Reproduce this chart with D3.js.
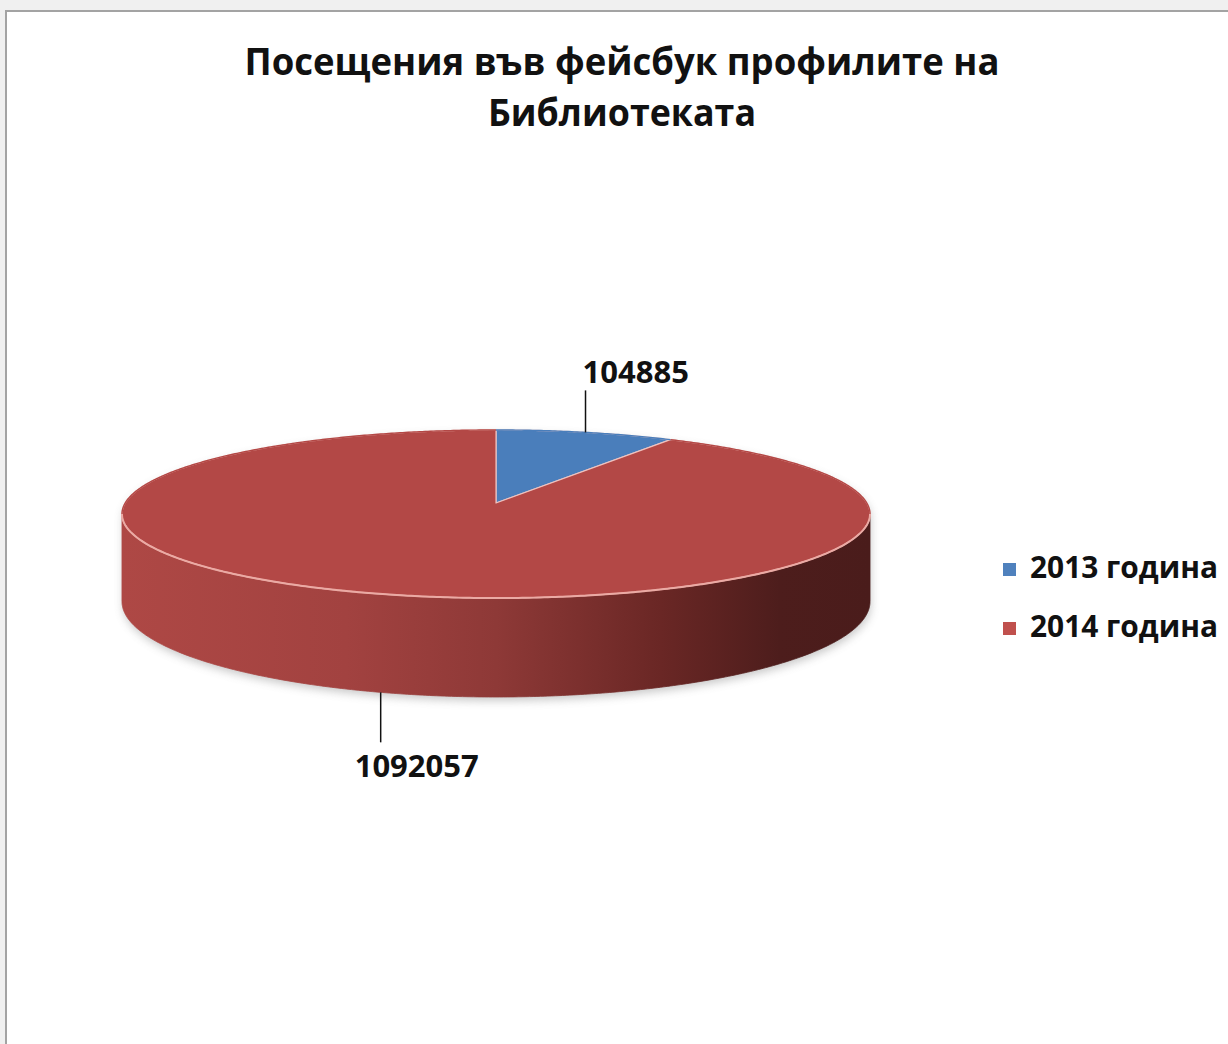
<!DOCTYPE html>
<html>
<head>
<meta charset="utf-8">
<script src="https://cdn.jsdelivr.net/npm/d3@7/dist/d3.min.js"></script>
<style>
  html, body { margin: 0; padding: 0; background: #f0f0f0; }
  svg { display: block; }
</style>
</head>
<body>
<svg id="chart" width="1228" height="1044"></svg>
<script>
// ---- data ----
const titleLines = ["Посещения във фейсбук профилите на", "Библиотеката"];
const categories = ["2013 година", "2014 година"];
const values = [104885, 1092057];

// ---- styles ----
const topColors = ["#4A7EBB", "#B34846"];
const legendColors = ["#4F81BD", "#C0504D"];
const FONT = "'Open Sans', 'Noto Sans', sans-serif";

const svg = d3.select("#chart");
const W = 1228, H = 1044;

// frame
svg.append("rect").attr("x", 0).attr("y", 0).attr("width", W).attr("height", H).attr("fill", "#f0f0f0");
svg.append("rect").attr("x", 6).attr("y", 11).attr("width", W + 20).attr("height", H + 20)
  .attr("fill", "#ffffff").attr("stroke", "#a3a3a3").attr("stroke-width", 2);

// title
const title = svg.append("g");
const titleWidths = [755, 268];
titleLines.forEach((t, i) => {
  title.append("text")
    .attr("x", 622).attr("y", 75 + i * 51)
    .attr("text-anchor", "middle")
    .attr("font-family", FONT).attr("font-weight", 700).attr("font-size", 38)
    .attr("fill", "#111")
    .attr("textLength", titleWidths[i]).attr("lengthAdjust", "spacingAndGlyphs")
    .text(t);
});

// ---- 3D pie geometry (perspective projection of a disc) ----
const CX = 496, CY = 503, RX = 370.8, RY = 82.6, K = 0.1309, D0 = 86;
function proj(theta, level) {
  const w = 1 + K * Math.cos(theta);
  return [CX + RX * Math.sin(theta) / w, CY - RY * Math.cos(theta) / w + level * D0 / w];
}
const pie = d3.pie().sort(null).value(d => d).startAngle(0).endAngle(2 * Math.PI);
const arcs = pie(values);
const line = d3.line();
function sampleArc(a0, a1, level) {
  const n = Math.max(2, Math.ceil(Math.abs(a1 - a0) / (Math.PI / 360)));
  return d3.range(n + 1).map(i => proj(a0 + (a1 - a0) * i / n, level));
}

const defs = svg.append("defs");
defs.append("filter").attr("id", "shadow").attr("x", "-20%").attr("y", "-20%").attr("width", "140%").attr("height", "160%")
  .append("feGaussianBlur").attr("stdDeviation", 4);

const sideLeft = CX - RX / Math.sqrt(1 - K * K), sideRight = CX + RX / Math.sqrt(1 - K * K);
const sideGrad = defs.append("linearGradient").attr("id", "sideGrad")
  .attr("gradientUnits", "userSpaceOnUse")
  .attr("x1", sideLeft).attr("x2", sideRight).attr("y1", 0).attr("y2", 0);
[[0, "#AE4845"], [0.3, "#A24240"], [0.5, "#8E3937"], [0.72, "#6A2725"], [0.88, "#4D1D1C"], [1, "#4A1C1B"]]
  .forEach(([o, c]) => sideGrad.append("stop").attr("offset", o).attr("stop-color", c));

const blueSide = defs.append("linearGradient").attr("id", "sideGrad0")
  .attr("gradientUnits", "userSpaceOnUse")
  .attr("x1", sideLeft).attr("x2", sideRight).attr("y1", 0).attr("y2", 0);
[[0, "#4674AC"], [0.5, "#365B88"], [1, "#1F3550"]]
  .forEach(([o, c]) => blueSide.append("stop").attr("offset", o).attr("stop-color", c));

const thA = Math.acos(-K), thB = 2 * Math.PI - Math.acos(-K);

// shadow
const shadowPts = sampleArc(thA, thB, 1).concat(sampleArc(thB, thA + 2 * Math.PI, 0));
svg.append("path")
  .attr("d", line(shadowPts) + "Z")
  .attr("transform", "translate(1,4)")
  .attr("fill", "#8a8a8a").attr("opacity", 0.45)
  .attr("filter", "url(#shadow)");

// sides (visible front part of each slice)
arcs.forEach((a, i) => {
  const s = Math.max(a.startAngle, thA), e = Math.min(a.endAngle, thB);
  if (e <= s) return;
  const pts = sampleArc(s, e, 0).concat(sampleArc(e, s, 1));
  svg.append("path").attr("d", line(pts) + "Z")
    .attr("fill", i === 1 ? "url(#sideGrad)" : "url(#sideGrad0)")
    .attr("stroke", i === 1 ? "url(#sideGrad)" : "url(#sideGrad0)").attr("stroke-width", 0.8);
});

// top surfaces
arcs.forEach((a, i) => {
  const pts = [[CX, CY]].concat(sampleArc(a.startAngle, a.endAngle, 0));
  svg.append("path").attr("d", line(pts) + "Z")
    .attr("fill", topColors[i])
    .attr("stroke", "rgba(245,200,195,0.85)").attr("stroke-width", 1.3)
    .attr("stroke-linejoin", "round");
});
// outer back edge: cover light stroke with slice colour at back
arcs.forEach((a, i) => {
  const s = a.startAngle, e = a.endAngle;
  const segs = [];
  if (s < thA) segs.push([s, Math.min(e, thA)]);
  if (e > thB) segs.push([Math.max(s, thB), e]);
  segs.forEach(([s0, e0]) => {
    svg.append("path").attr("d", line(sampleArc(s0, e0, 0)))
      .attr("fill", "none").attr("stroke", topColors[i]).attr("stroke-width", 1.4);
  });
});
// front rim highlight
svg.append("path").attr("d", line(sampleArc(thA, thB, 0)))
  .attr("fill", "none").attr("stroke", "#EBAAA4").attr("stroke-width", 2);

// data labels with leader lines
arcs.forEach((a, i) => {
  const mid = (a.startAngle + a.endAngle) / 2;
  const front = Math.cos(mid) < -K;
  const p = proj(mid, front ? 1 : 0);
  const y2 = front ? p[1] + 50 : p[1] - 42;
  svg.append("line").attr("x1", p[0]).attr("y1", p[1]).attr("x2", p[0]).attr("y2", y2)
    .attr("stroke", "#111").attr("stroke-width", 1.5);
  svg.append("text")
    .attr("x", front ? p[0] - 26 : p[0] - 3)
    .attr("y", front ? y2 + 35 : y2 - 7)
    .attr("font-family", FONT).attr("font-weight", 700).attr("font-size", 31)
    .attr("fill", "#111")
    .text(d3.format("d")(values[i]));
});

// legend
const legend = svg.append("g");
categories.forEach((c, i) => {
  const y = 578 + i * 59;
  legend.append("rect").attr("x", 1003).attr("y", y - 15).attr("width", 13).attr("height", 13)
    .attr("fill", legendColors[i]);
  legend.append("text").attr("x", 1030).attr("y", y)
    .attr("font-family", FONT).attr("font-weight", 700).attr("font-size", 30)
    .attr("fill", "#111")
    .attr("textLength", 188).attr("lengthAdjust", "spacingAndGlyphs")
    .text(c);
});
</script>
</body>
</html>
